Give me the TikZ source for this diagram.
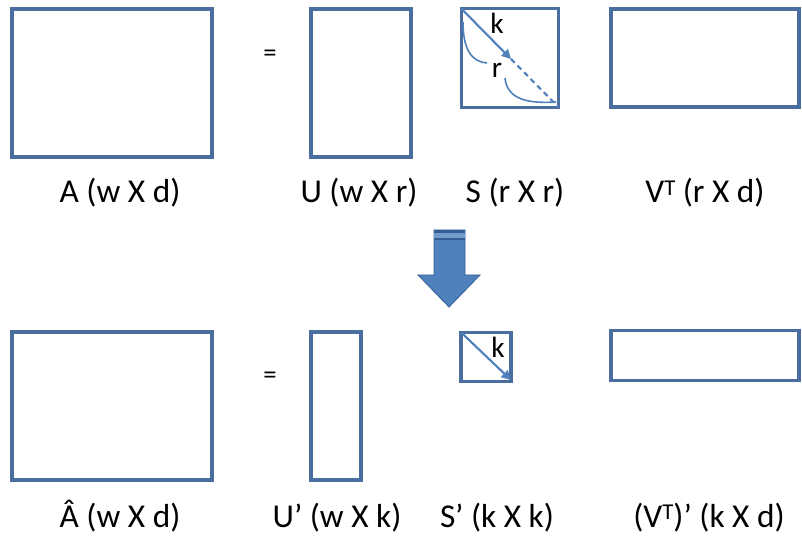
\documentclass[tikz,border=0pt]{standalone}
\usepackage{fontspec}
\setmainfont{Carlito}
\usetikzlibrary{arrows.meta}
\definecolor{boxblue}{RGB}{74,110,160}
\definecolor{lineblue}{RGB}{79,129,189}
\definecolor{arrowfill}{RGB}{79,129,189}
\definecolor{arrowdark}{RGB}{52,95,150}
\tikzset{
  mat/.style={draw=boxblue, line width=2.4pt, fill=white, inner sep=0pt, outer sep=0pt},
  lbl/.style={font=\fontsize{25}{28}\selectfont, inner sep=0pt, anchor=base},
  eq/.style={font=\fontsize{20}{24}\selectfont, inner sep=0pt},
  klbl/.style={font=\fontsize{22}{24}\selectfont, inner sep=0pt},
  diag/.style={draw=lineblue, line width=1.6pt},
}
\newcommand{\supT}{\raisebox{5.5pt}{\fontsize{17}{18}\selectfont T}}
\begin{document}
\begin{tikzpicture}[x=0.75pt, y=-0.75pt]
\useasboundingbox (0,0) rectangle (802,541);
% top row
\node[mat, minimum width=150pt, minimum height=111pt] (A) at (112,83) {};
\node[mat, minimum width=75pt, minimum height=111pt] (U) at (361,83) {};
\node[mat, minimum width=73pt, minimum height=74pt] (S) at (510,58) {};
\node[mat, minimum width=141pt, minimum height=73.5pt] (V) at (705,58) {};
\node[eq] (eq1) at (270,56) {=};
% bottom row
\node[mat, minimum width=150pt, minimum height=111pt] (Ah) at (112,406) {};
\node[mat, minimum width=37.5pt, minimum height=111pt] (Up) at (336,406) {};
\node[mat, minimum width=37.5pt, minimum height=37pt] (Sp) at (486,357) {};
\node[mat, minimum width=141pt, minimum height=37pt] (Vp) at (705,355.5) {};
\node[eq] (eq2) at (270,378) {=};
% S diagonal
\coordinate (kend) at (511,59);
\draw[diag, -{Triangle[length=7pt,width=7pt]}] (S.north west) -- (kend);
\draw[diag, dashed, dash pattern=on 4pt off 3pt] (kend) -- (S.south east);
\coordinate (c1a) at (463,22);
\coordinate (c1b) at (487,63);
\draw[diag, line width=1.2pt] (c1a) .. controls (463,50) and (472,62) .. (c1b);
\coordinate (c2a) at (505,78);
\coordinate (c2b) at (556,102);
\draw[diag, line width=1.2pt] (c2a) .. controls (507,98) and (525,104) .. (c2b);
\node[klbl] (k1) at (497,23) {k};
\node[klbl] (r1) at (497,70) {r};
% S' diagonal
\coordinate (kend2) at (511,380);
\draw[diag, -{Triangle[length=7pt,width=7pt]}] (Sp.north west) -- (kend2);
\node[klbl] (k2) at (498,347) {k};
% labels top
\node[lbl] (lA) at (120,203) {A (w X d)};
\node[lbl] (lU) at (359,203) {U (w X r)};
\node[lbl] (lS) at (515,203) {S (r X r)};
\node[lbl] (lV) at (705,203) {V\supT{} (r X d)};
% labels bottom
\node[lbl] (lAh) at (120,527) {Â (w X d)};
\node[lbl] (lUp) at (337,527) {U’ (w X k)};
\node[lbl] (lSp) at (497,527) {S’ (k X k)};
\node[lbl] (lVp) at (709,527) {(V\supT)’ (k X d)};
% block arrow
\fill[arrowfill, draw=arrowdark, line width=0.6pt] (434,230) -- (465,230) -- (465,275) -- (480,275) -- (449,307) -- (418,275) -- (434,275) -- cycle;
\fill[arrowdark] (434,230) rectangle (465,240);
\fill[arrowfill!80!white] (434,233) rectangle (465,238);
\end{tikzpicture}
\end{document}
